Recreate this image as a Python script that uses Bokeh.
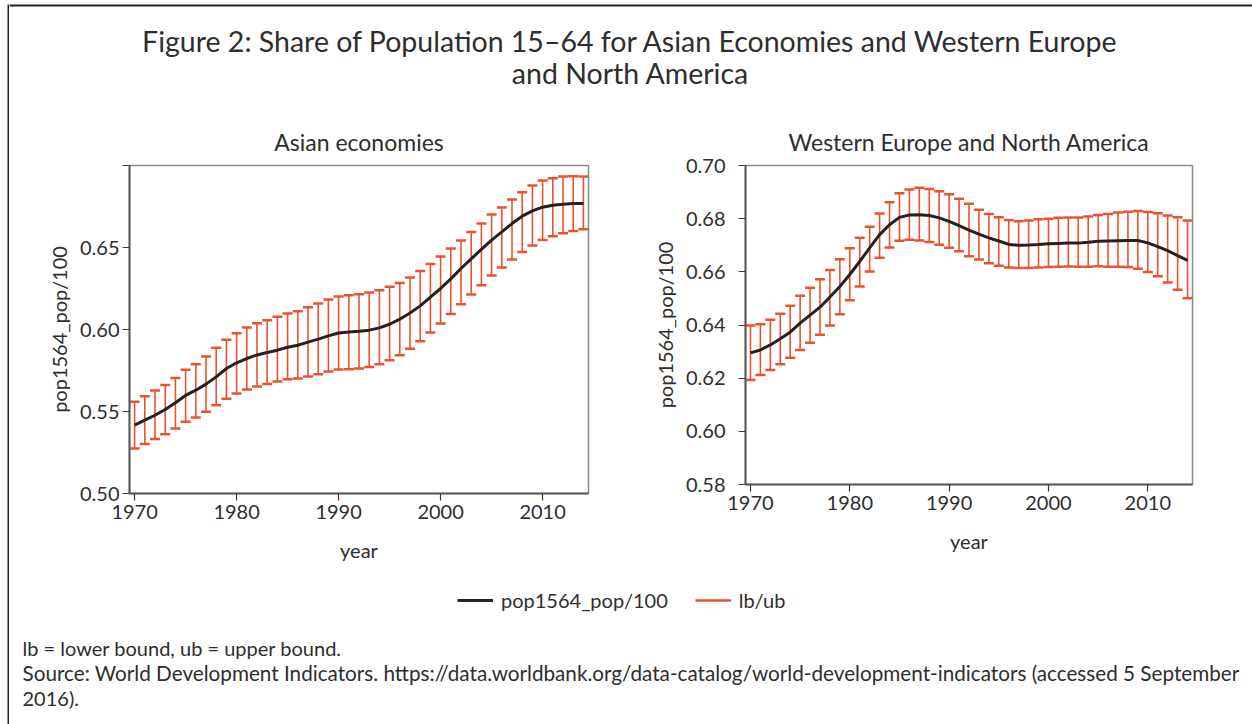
from bokeh.plotting import figure
from bokeh.layouts import column, row
from bokeh.models import (Range1d, FixedTicker, PrintfTickFormatter, Whisker, TeeHead,
                          ColumnDataSource, Label, Legend, LegendItem, BoxAnnotation)
from bokeh.embed import file_html
from bokeh.resources import INLINE

# ---------------- data ----------------
years = list(range(1970, 2015))

asia_mean = [0.5417, 0.5447, 0.5477, 0.5512, 0.5553, 0.5598, 0.5630, 0.5667, 0.5711, 0.5762,
             0.5797, 0.5823, 0.5845, 0.5860, 0.5874, 0.5892, 0.5904, 0.5923, 0.5941, 0.5961,
             0.5979, 0.5985, 0.5989, 0.5996, 0.6010, 0.6032, 0.6063, 0.6101, 0.6144, 0.6197,
             0.6250, 0.6309, 0.6372, 0.6431, 0.6488, 0.6545, 0.6595, 0.6646, 0.6691, 0.6723,
             0.6746, 0.6758, 0.6764, 0.6768, 0.6768]
asia_lb = [0.5274, 0.5302, 0.5333, 0.5362, 0.5396, 0.5437, 0.5463, 0.5498, 0.5538, 0.5577,
           0.5610, 0.5634, 0.5652, 0.5668, 0.5683, 0.5697, 0.5701, 0.5713, 0.5727, 0.5744,
           0.5756, 0.5758, 0.5762, 0.5772, 0.5788, 0.5813, 0.5843, 0.5882, 0.5929, 0.5982,
           0.6037, 0.6095, 0.6154, 0.6213, 0.6270, 0.6329, 0.6378, 0.6427, 0.6473, 0.6512,
           0.6546, 0.6569, 0.6587, 0.6601, 0.6612]
asia_ub = [0.5559, 0.5593, 0.5628, 0.5662, 0.5705, 0.5754, 0.5788, 0.5835, 0.5888, 0.5937,
           0.5977, 0.6012, 0.6038, 0.6057, 0.6077, 0.6098, 0.6112, 0.6136, 0.6159, 0.6183,
           0.6201, 0.6209, 0.6215, 0.6226, 0.6240, 0.6260, 0.6284, 0.6317, 0.6357, 0.6400,
           0.6445, 0.6494, 0.6543, 0.6595, 0.6646, 0.6701, 0.6744, 0.6793, 0.6837, 0.6878,
           0.6909, 0.6923, 0.6933, 0.6935, 0.6933]

west_mean = [0.6295, 0.6306, 0.6325, 0.6348, 0.6373, 0.6407, 0.6437, 0.6467, 0.6505, 0.6545,
             0.6590, 0.6639, 0.6690, 0.6740, 0.6777, 0.6805, 0.6814, 0.6815, 0.6812, 0.6803,
             0.6790, 0.6774, 0.6757, 0.6742, 0.6728, 0.6716, 0.6703, 0.6700, 0.6701, 0.6703,
             0.6706, 0.6707, 0.6708, 0.6708, 0.6711, 0.6715, 0.6716, 0.6717, 0.6718, 0.6718,
             0.6709, 0.6695, 0.6680, 0.6661, 0.6643]
west_lb = [0.6193, 0.6212, 0.6231, 0.6252, 0.6277, 0.6306, 0.6333, 0.6363, 0.6398, 0.6440,
           0.6493, 0.6545, 0.6601, 0.6653, 0.6692, 0.6717, 0.6721, 0.6718, 0.6712, 0.6702,
           0.6691, 0.6677, 0.6659, 0.6646, 0.6632, 0.6623, 0.6616, 0.6614, 0.6614, 0.6616,
           0.6618, 0.6619, 0.6620, 0.6619, 0.6619, 0.6621, 0.6619, 0.6619, 0.6618, 0.6612,
           0.6599, 0.6583, 0.6560, 0.6533, 0.6501]
west_ub = [0.6398, 0.6403, 0.6420, 0.6442, 0.6472, 0.6510, 0.6540, 0.6572, 0.6607, 0.6647,
           0.6689, 0.6728, 0.6770, 0.6819, 0.6862, 0.6896, 0.6910, 0.6916, 0.6912, 0.6903,
           0.6892, 0.6875, 0.6856, 0.6834, 0.6818, 0.6805, 0.6795, 0.6790, 0.6793, 0.6798,
           0.6800, 0.6803, 0.6804, 0.6804, 0.6808, 0.6814, 0.6818, 0.6823, 0.6826, 0.6829,
           0.6825, 0.6820, 0.6812, 0.6805, 0.6793]

x_ticks = [1970, 1980, 1990, 2000, 2010]
asia_y_ticks = [0.50, 0.55, 0.60, 0.65, 0.70]
west_y_ticks = [0.58, 0.60, 0.62, 0.64, 0.66, 0.68, 0.70]

main_title = ["Figure 2: Share of Population 15\u201364 for Asian Economies and Western Europe",
              "and North America"]
panel_titles = ["Asian economies", "Western Europe and North America"]
y_label = "pop1564_pop/100"
x_label = "year"
legend_labels = ["pop1564_pop/100", "lb/ub"]
notes = ["lb = lower bound, ub = upper bound.",
         "Source: World Development Indicators. https://data.worldbank.org/data-catalog/world-development-indicators (accessed 5 September",
         "2016)."]

# ---------------- style ----------------
FONT = "Lato"
TXT = "#2e2e2e"
BLACK = "#222222"
RED = "#E9532F"
FRAME = "#222222"
W = 1243          # content width right of the left frame strip
TOP = 49          # panel border above the frame (holds the panel title)
HEAD_H = 165 - TOP
FOOT_H = 159


def blank(width, height):
    f = figure(width=width, height=height, x_range=Range1d(0, width), y_range=Range1d(height, 0),
               x_axis_location=None, y_axis_location=None, toolbar_location=None,
               output_backend="svg", min_border=0)
    f.outline_line_color = None
    f.grid.visible = False
    return f


def panel(title, width, frame_h, left, right, yr, yticks, mean, lb, ub, hide_top_label, ylab_off):
    p = figure(title=title, width=width, height=TOP + frame_h + 72,
               x_range=Range1d(1969.5, 2014.5), y_range=yr,
               toolbar_location=None, output_backend="svg",
               min_border_left=left, min_border_right=right, min_border_top=TOP,
               min_border_bottom=72)
    p.title.align = "center"
    p.title.text_font = FONT
    p.title.text_font_size = "23px"
    p.title.text_font_style = "normal"
    p.title.text_color = TXT
    p.title.standoff = 19
    p.grid.visible = False
    p.outline_line_color = "#8a8a8a"
    p.outline_line_width = 1.5
    src = ColumnDataSource(dict(year=years, mean=mean, lb=lb, ub=ub))
    wh = Whisker(source=src, base="year", lower="lb", upper="ub", dimension="height",
                 line_color=RED, line_width=1.6,
                 upper_head=TeeHead(size=10, line_color=RED, line_width=2.5),
                 lower_head=TeeHead(size=10, line_color=RED, line_width=2.5))
    p.add_layout(wh)
    p.line("year", "mean", source=src, line_color=BLACK, line_width=3)

    p.xaxis.ticker = FixedTicker(ticks=x_ticks)
    p.yaxis.ticker = FixedTicker(ticks=yticks)
    p.yaxis.formatter = PrintfTickFormatter(format="%.2f")
    if hide_top_label:
        p.yaxis.major_label_overrides = {0.7: ""}
    p.xaxis.axis_label = x_label
    p.yaxis.axis_label = y_label
    for ax in (p.xaxis[0], p.yaxis[0]):
        ax.axis_line_color = "#5a5a5a"
        ax.axis_line_width = 2
        ax.major_tick_line_color = "#3a3a3a"
        ax.major_tick_line_width = 1.2
        ax.major_tick_out = 7
        ax.major_tick_in = 0
        ax.minor_tick_line_color = None
        ax.major_label_text_font = FONT
        ax.major_label_text_font_size = "20px"
        ax.major_label_text_color = TXT
        ax.axis_label_text_font = FONT
        ax.axis_label_text_font_size = "20px"
        ax.axis_label_text_font_style = "normal"
        ax.axis_label_text_color = TXT
    p.xaxis.major_label_standoff = 4
    p.xaxis.axis_label_standoff = 16
    p.yaxis.major_label_standoff = ylab_off
    p.yaxis.axis_label_standoff = 6
    return p


# ---------------- left frame strip ----------------
strip = blank(9, 724)
strip.add_layout(BoxAnnotation(left=7, right=9, top=4, bottom=724, fill_color=FRAME,
                               fill_alpha=1, line_color=None))

# ---------------- header ----------------
head = blank(W, HEAD_H)
head.add_layout(BoxAnnotation(top=4, bottom=6, fill_color=FRAME, fill_alpha=1, line_color=None))
for i, t in enumerate(main_title):
    head.add_layout(Label(x=621, y=40 + 32 * i, text=t, text_align="center", text_baseline="middle",
                          text_font=FONT, text_font_size="28.5px", text_color=TXT))

# ---------------- panels ----------------
p1 = panel(panel_titles[0], 601, 328, 120, 22, Range1d(0.50, 0.70), asia_y_ticks,
           asia_mean, asia_lb, asia_ub, True, 3)
p2 = panel(panel_titles[1], 642, 319, 135, 60, Range1d(0.58, 0.70), west_y_ticks,
           west_mean, west_lb, west_ub, False, 13)

# ---------------- footer ----------------
foot = blank(W, FOOT_H)
nan = float("nan")
r_line = foot.line(x=[nan], y=[nan], line_color=BLACK, line_width=3)
r_err = foot.line(x=[nan], y=[nan], line_color=RED, line_width=2.5)
leg = Legend(items=[LegendItem(label=legend_labels[0], renderers=[r_line]),
                    LegendItem(label=legend_labels[1], renderers=[r_err])],
             orientation="horizontal", location=(448, 112), glyph_width=36, glyph_height=20,
             label_standoff=8, spacing=27, padding=0, margin=0, border_line_color=None,
             background_fill_alpha=0, label_text_font=FONT, label_text_font_size="20px",
             label_text_color=TXT)
foot.add_layout(leg)
note_sizes = ["20px", "20.7px", "20px"]
for i, t in enumerate(notes):
    foot.add_layout(Label(x=13, y=82 + 25 * i, text=t, text_align="left", text_baseline="middle",
                          text_font=FONT, text_font_size=note_sizes[i], text_color=TXT))

page = row(strip, column(head, row(p1, p2), foot))

open("out.html", "w").write(file_html(page, INLINE))
